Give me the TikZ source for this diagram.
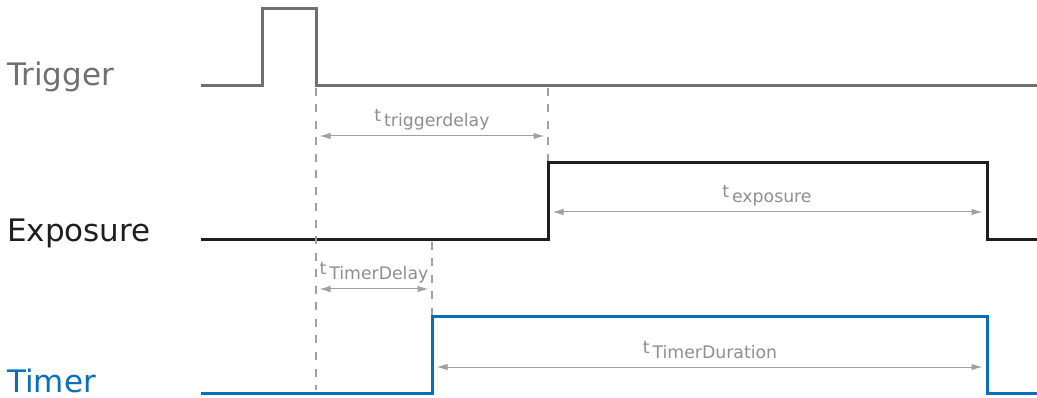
\documentclass[tikz,border=0pt]{standalone}
\usepackage{fontspec}
\setmainfont{DejaVu Sans}
\usetikzlibrary{arrows.meta}
\definecolor{trig}{HTML}{707070}
\definecolor{expo}{HTML}{1E1E1E}
\definecolor{timr}{HTML}{0A6EBD}
\definecolor{dimc}{HTML}{A0A0A0}
\definecolor{dimtext}{HTML}{8E8E8E}
\tikzset{
  sig/.style={line width=3pt, line join=miter, line cap=butt},
  guide/.style={draw=dimc, line width=1.2pt, dash pattern=on 8pt off 8.5pt},
  dimarrow/.style={draw=dimc, line width=1pt, shorten <=3.5pt, shorten >=3.5pt,
    {Latex[length=11pt,width=6.5pt]}-{Latex[length=11pt,width=6.5pt]}},
  biglabel/.style={font=\fontsize{31}{36}\selectfont, anchor=base west, inner sep=0pt},
  dimlabel/.style={font=\fontsize{17.3}{20}\selectfont, text=dimtext, anchor=base, inner sep=0pt},
}
\begin{document}
\begin{tikzpicture}[x=1pt,y=-1pt]
\useasboundingbox (0,0) rectangle (1037,398);
% signal labels
\node[biglabel, text=trig] (ltrig) at (7,86) {Trigger};
\node[biglabel, text=expo] (lexpo) at (7,242) {Exposure};
\node[biglabel, text=timr] (ltimr) at (7,392) {Timer};
% trigger waveform
\coordinate (T0) at (201,86);
\coordinate (T1) at (262,86);
\coordinate (T2) at (262,9);
\coordinate (T3) at (316,9);
\coordinate (T4) at (316,86);
\coordinate (T5) at (1037,86);
\draw[sig, draw=trig] (T0) -- (T1) -- (T2) -- (T3) -- (T4) -- (T5);
% exposure waveform
\coordinate (E0) at (201,240);
\coordinate (E1) at (548,240);
\coordinate (E2) at (548,163);
\coordinate (E3) at (987,163);
\coordinate (E4) at (987,240);
\coordinate (E5) at (1037,240);
\draw[sig, draw=expo] (E0) -- (E1) -- (E2) -- (E3) -- (E4) -- (E5);
% timer waveform
\coordinate (M0) at (201,393);
\coordinate (M1) at (432,393);
\coordinate (M2) at (432,317);
\coordinate (M3) at (987,317);
\coordinate (M4) at (987,393);
\coordinate (M5) at (1037,393);
\draw[sig, draw=timr] (M0) -- (M1) -- (M2) -- (M3) -- (M4) -- (M5);
% guides
\coordinate (G1a) at (316,88);
\coordinate (G1b) at (316,390);
\coordinate (G2a) at (548,88);
\coordinate (G2b) at (548,161);
\coordinate (G3a) at (432,242);
\coordinate (G3b) at (432,315);
\draw[guide] (G1a) -- (G1b);
\draw[guide] (G2a) -- (G2b);
\draw[guide] (G3a) -- (G3b);
% dimension arrows
\coordinate (D1a) at (316,136);
\coordinate (D1b) at (548,136);
\draw[dimarrow] (D1a) -- (D1b);
\coordinate (D2a) at (549,212);
\coordinate (D2b) at (986,212);
\draw[dimarrow] (D2a) -- (D2b);
\coordinate (D3a) at (316,289);
\coordinate (D3b) at (432,289);
\draw[dimarrow] (D3a) -- (D3b);
\coordinate (D4a) at (433,367);
\coordinate (D4b) at (986,367);
\draw[dimarrow] (D4a) -- (D4b);
% dimension labels
\node[dimlabel] (l1) at (432,122) {t\,\raisebox{-5pt}{triggerdelay}};
\node[dimlabel] (l2) at (767,198) {t\,\raisebox{-5pt}{exposure}};
\node[dimlabel] (l3) at (374,275) {t\,\raisebox{-5pt}{TimerDelay}};
\node[dimlabel] (l4) at (710,353) {t\,\raisebox{-5pt}{TimerDuration}};
\end{tikzpicture}
\end{document}
